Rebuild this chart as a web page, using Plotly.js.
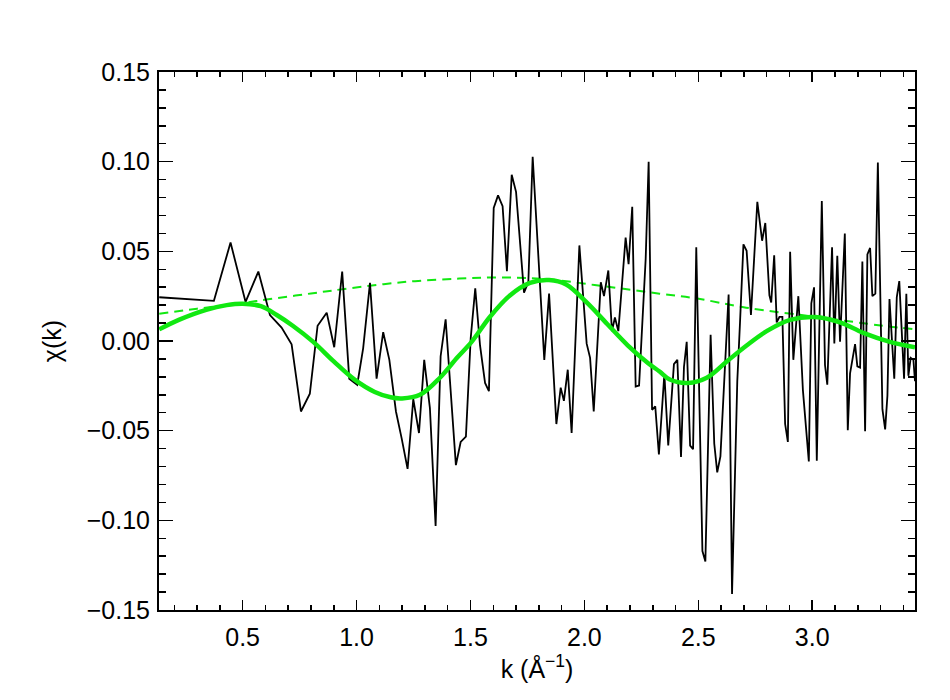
<!DOCTYPE html>
<html>
<head>
<meta charset="utf-8">
<script src="https://cdn.plot.ly/plotly-3.0.1.min.js"></script>
<style>
  body { margin: 0; background: #fff; }
  #chart { width: 950px; height: 700px; }
</style>
</head>
<body>
<div id="chart"></div>
<script>
// measured chi(k) - black noisy trace
const kData = [0.134, 0.374, 0.447, 0.513, 0.569, 0.620, 0.671, 0.715, 0.756, 0.795,
  0.829, 0.869, 0.902, 0.937, 0.968, 1.003, 1.029, 1.059, 1.088, 1.117,
  1.144, 1.173, 1.198, 1.224, 1.249, 1.274, 1.297, 1.322, 1.347, 1.369,
  1.391, 1.436, 1.457, 1.480, 1.501, 1.521, 1.542, 1.564, 1.581, 1.602,
  1.621, 1.641, 1.660, 1.681, 1.700, 1.735, 1.754, 1.773, 1.824, 1.845,
  1.877, 1.896, 1.910, 1.927, 1.944, 1.978, 2.010, 2.025, 2.041, 2.072,
  2.086, 2.105, 2.121, 2.134, 2.149, 2.168, 2.181, 2.194, 2.210, 2.225,
  2.240, 2.269, 2.282, 2.297, 2.311, 2.327, 2.351, 2.368, 2.393, 2.408,
  2.424, 2.437, 2.449, 2.464, 2.477, 2.491, 2.518, 2.531, 2.554, 2.570,
  2.583, 2.597, 2.633, 2.648, 2.671, 2.683, 2.698, 2.712, 2.731, 2.759,
  2.780, 2.794, 2.812, 2.820, 2.833, 2.844, 2.856, 2.869, 2.881, 2.893,
  2.903, 2.917, 2.939, 2.959, 2.985, 2.996, 3.008, 3.020, 3.042, 3.056,
  3.066, 3.087, 3.097, 3.110, 3.122, 3.143, 3.156, 3.166, 3.188, 3.198,
  3.210, 3.220, 3.232, 3.242, 3.254, 3.264, 3.277, 3.288, 3.308, 3.320,
  3.330, 3.339, 3.360, 3.371, 3.382, 3.403, 3.413, 3.422, 3.432, 3.444,
  3.451];
const chiData = [0.0244, 0.0224, 0.0549, 0.0218, 0.0387, 0.0145, 0.0075, -0.0019, -0.0393, -0.0294,
  0.0085, 0.0158, -0.0035, 0.0387, -0.0210, -0.0244, -0.0041, 0.0324, -0.0210, 0.0049,
  -0.0105, -0.0393, -0.0543, -0.0713, -0.0324, -0.0513, -0.0105, -0.0374, -0.1031, -0.0085,
  0.0121, -0.0692, -0.0563, -0.0533, 0.0015, 0.0294, -0.0025, -0.0234, -0.0280, 0.0742,
  0.0812, 0.0752, 0.0389, 0.0927, 0.0832, 0.0270, 0.0328, 0.1027, -0.0105, 0.0264,
  -0.0463, -0.0260, -0.0334, -0.0160, -0.0513, 0.0533, -0.0015, -0.0094, -0.0393, 0.0328,
  0.0250, 0.0393, 0.0055, 0.0131, 0.0055, 0.0393, 0.0577, 0.0429, 0.0748, -0.0254,
  -0.0248, 0.0459, 0.1000, -0.0384, -0.0364, -0.0633, -0.0184, -0.0583, -0.0129, -0.0105,
  -0.0647, -0.0145, -0.0005, -0.0583, -0.0603, 0.0523, -0.1171, -0.1230, 0.0035, -0.0573,
  -0.0733, -0.0643, 0.0259, -0.1411, -0.0224, 0.0103, 0.0539, 0.0503, 0.0145, 0.0776,
  0.0559, 0.0658, 0.0255, 0.0215, 0.0478, 0.0104, 0.0134, 0.0134, -0.0463, -0.0563,
  0.0497, -0.0105, 0.0250, -0.0274, -0.0672, 0.0210, 0.0299, -0.0667, 0.0780, -0.0134,
  -0.0244, 0.0523, -0.0014, 0.0475, -0.0004, 0.0599, -0.0497, -0.0181, -0.0017, -0.0141,
  -0.0148, 0.0443, -0.0503, 0.0483, 0.0519, 0.0250, 0.0264, 0.0995, -0.0380, -0.0493,
  -0.0304, 0.0234, -0.0210, 0.0244, 0.0334, -0.0210, 0.0264, -0.0194, -0.0094, -0.0105,
  -0.0224];

// fitted chi(k) - thick green
const kFit = [0.134, 0.22, 0.34, 0.43, 0.50, 0.58, 0.65, 0.72, 0.81, 0.90,
  0.99, 1.08, 1.15, 1.20, 1.278, 1.366, 1.44, 1.505, 1.585, 1.673,
  1.761, 1.845, 1.92, 2.01, 2.10, 2.19, 2.28, 2.33, 2.375, 2.456,
  2.537, 2.625, 2.712, 2.80, 2.903, 3.012, 3.122, 3.224, 3.341, 3.451];
const chiFit = [0.0065, 0.0118, 0.0174, 0.0200, 0.0208, 0.0194, 0.0145, 0.0085, -0.0005, -0.0114,
  -0.0214, -0.0284, -0.0314, -0.0320, -0.0300, -0.0205, -0.0095, -0.0005, 0.0134, 0.0254,
  0.0324, 0.0340, 0.0315, 0.0215, 0.0095, -0.0024, -0.0124, -0.0170, -0.0215, -0.0234,
  -0.0205, -0.0114, -0.0025, 0.0055, 0.0118, 0.0134, 0.0104, 0.0045, -0.0005, -0.0035];

// amplitude envelope - dashed green
const kEnv = [0.134, 0.30, 0.50, 0.62, 0.80, 0.97, 1.22, 1.45, 1.63, 1.83,
  2.07, 2.33, 2.49, 2.71, 3.02, 3.31, 3.451];
const chiEnv = [0.0152, 0.0180, 0.0212, 0.0234, 0.0265, 0.0294, 0.0330, 0.0348, 0.0354, 0.0345,
  0.0308, 0.0264, 0.0238, 0.0186, 0.0134, 0.0085, 0.0065];

const green = "#11e811";
const font = { family: "Liberation Sans, Arial, sans-serif", color: "#000", size: 25 };

const traces = [
  {
    x: kEnv, y: chiEnv, type: "scatter", mode: "lines",
    line: { color: green, width: 2, dash: "9px,6px", shape: "spline" },
    hoverinfo: "skip"
  },
  {
    x: kData, y: chiData, type: "scatter", mode: "lines",
    line: { color: "#000", width: 1.8 }
  },
  {
    x: kFit, y: chiFit, type: "scatter", mode: "lines",
    line: { color: green, width: 4.5, shape: "spline" }
  }
];

const axisCommon = {
  showline: true, linecolor: "#000", linewidth: 2,
  mirror: "ticks", ticks: "inside", tickcolor: "#000", tickwidth: 1.5,
  showgrid: false, zeroline: false, tickfont: font
};

const layout = {
  width: 950, height: 700,
  margin: { l: 159, r: 35, t: 72, b: 90 },
  paper_bgcolor: "#fff", plot_bgcolor: "#fff",
  showlegend: false, font: font,
  xaxis: Object.assign({}, axisCommon, {
    range: [0.133, 3.451], tick0: 0, dtick: 0.5, tickformat: ".1f", ticklen: 10,
    ticklabelstandoff: 4,
    minor: { dtick: 0.1, ticks: "inside", ticklen: 5, tickcolor: "#000", tickwidth: 1.5 },
    title: { text: "k (Å<sup>−1</sup>)", font: font, standoff: 2 }
  }),
  yaxis: Object.assign({}, axisCommon, {
    range: [-0.15, 0.15], tick0: 0, dtick: 0.05, tickformat: ".2f", ticklen: 14,
    ticklabelstandoff: 2,
    minor: { dtick: 0.01, ticks: "inside", ticklen: 7, tickcolor: "#000", tickwidth: 1.5 },
    title: { text: "χ(k)", font: font, standoff: 18 }
  })
};

Plotly.newPlot("chart", traces, layout, { displayModeBar: false, staticPlot: true });
</script>
</body>
</html>
